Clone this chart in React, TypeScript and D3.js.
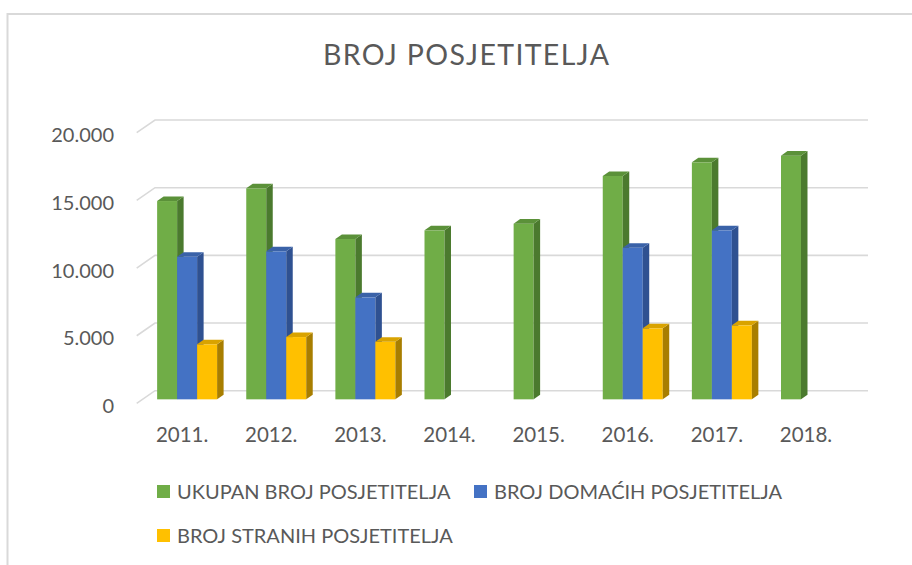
import React, { useEffect, useRef } from "react"
import * as d3 from "d3"

const W = 912
const H = 565

const years = ["2011.", "2012.", "2013.", "2014.", "2015.", "2016.", "2017.", "2018."]
const seriesNames = ["UKUPAN BROJ POSJETITELJA", "BROJ DOMAĆIH POSJETITELJA", "BROJ STRANIH POSJETITELJA"]
const ukupno = [14650, 15590, 11845, 12485, 12975, 16500, 17510, 18000]
const domaci = [10535, 10935, 7535, null, null, 11200, 12485, null]
const strani = [4065, 4600, 4255, null, null, 5245, 5465, null]
const yTicks = [0, 5000, 10000, 15000, 20000]

const colors = ["#70ad47", "#4472c4", "#ffc000"]
const sideColors = ["#4b7a2e", "#2f5191", "#a87e00"]
const topColors = ["#5b9139", "#3a62a8", "#d9a300"]

const TEXT = "#595959"
const GRID = "#d9d9d9"
const FONT = "Lato, 'Liberation Sans', sans-serif"

// back wall of the 3d plot and depth vector of the floor
const BACK_LEFT = 155
const BACK_RIGHT = 868
const DEPTH = { x: -18.3, y: 12.7 }
const BAR_PLANE = 0.68 // bars sit this far from the back wall
const BAR_DEPTH = { x: 6.5, y: -4.6 }

const fmt = (v: number) => (v === 0 ? "0" : d3.format(",")(v).replace(/,/g, "."))

const App = () => {
	const svgRef = useRef<SVGSVGElement>(null)

	useEffect(() => {
		const svg = d3.select(svgRef.current)
		svg.selectAll("*").remove()

		// chart area border (cut by the page edge)
		svg.append("rect")
			.attr("x", 7.5).attr("y", 14)
			.attr("width", W + 20).attr("height", H + 20)
			.attr("fill", "white")
			.attr("stroke", GRID).attr("stroke-width", 2)

		svg.append("text")
			.attr("x", 466).attr("y", 65)
			.attr("text-anchor", "middle")
			.attr("textLength", 286)
			.style("font-family", FONT).style("font-size", "28.5px")
			.style("fill", TEXT)
			.text("BROJ POSJETITELJA")

		const y = d3.scaleLinear().domain([0, 20000]).range([390.7, 120])

		// gridlines: back line plus the diagonal on the left side wall
		const grid = svg.append("g")
		yTicks.forEach((t) => {
			const yy = y(t)
			grid.append("path")
				.attr("d", `M${BACK_LEFT + DEPTH.x},${yy + DEPTH.y}L${BACK_LEFT},${yy}L${BACK_RIGHT},${yy}`)
				.attr("fill", "none").attr("stroke", GRID).attr("stroke-width", 1.6)
			svg.append("text")
				.attr("x", 114).attr("y", yy + DEPTH.y + 9.5)
				.attr("text-anchor", "end")
				.style("font-family", FONT).style("font-size", "20px")
				.style("fill", TEXT)
				.text(fmt(t))
		})

		const off = { x: DEPTH.x * BAR_PLANE, y: DEPTH.y * BAR_PLANE }
		const x = d3.scaleBand<string>()
			.domain(years)
			.range([BACK_LEFT + off.x, BACK_RIGHT + off.x])
			.paddingInner(0.327).paddingOuter(0.1635)
		const xs = d3.scaleBand<number>().domain([0, 1, 2]).range([0, x.bandwidth()])

		const data = [ukupno, domaci, strani]
		const bars = svg.append("g")
		years.forEach((yr, i) => {
			data.forEach((s, k) => {
				const v = s[i]
				if (v == null) return
				const x0 = (x(yr) as number) + (xs(k) as number)
				const w = xs.bandwidth()
				const top = y(v) + off.y
				const bottom = y(0) + off.y
				const dx = BAR_DEPTH.x, dy = BAR_DEPTH.y
				bars.append("rect")
					.attr("x", x0).attr("y", top)
					.attr("width", w).attr("height", bottom - top)
					.attr("fill", colors[k])
				bars.append("path")
					.attr("d", `M${x0 + w},${top}L${x0 + w + dx},${top + dy}L${x0 + w + dx},${bottom + dy}L${x0 + w},${bottom}Z`)
					.attr("fill", sideColors[k])
				bars.append("path")
					.attr("d", `M${x0},${top}L${x0 + dx},${top + dy}L${x0 + w + dx},${top + dy}L${x0 + w},${top}Z`)
					.attr("fill", topColors[k])
			})
		})

		years.forEach((yr) => {
			svg.append("text")
				.attr("x", (x(yr) as number) + x.bandwidth() / 2 - 5)
				.attr("y", 441.5)
				.attr("text-anchor", "middle")
				.style("font-family", FONT).style("font-size", "20.5px")
				.style("fill", TEXT)
				.text(yr)
		})

		// legend
		const legendPos = [
			{ x: 157, y: 499 },
			{ x: 474, y: 499 },
			{ x: 157, y: 543 },
		]
		seriesNames.forEach((name, k) => {
			const p = legendPos[k]
			svg.append("rect")
				.attr("x", p.x).attr("y", p.y - 14)
				.attr("width", 13).attr("height", 13)
				.attr("fill", colors[k])
			svg.append("text")
				.attr("x", p.x + 20).attr("y", p.y)
				.style("font-family", FONT).style("font-size", "20px")
				.style("fill", TEXT)
				.text(name)
		})
	}, [])

	return (
		<svg
			ref={svgRef}
			width={W}
			height={H}
			style={{ position: "absolute", left: 0, top: 0, display: "block", background: "white" }}
		></svg>
	)
}

export default App
